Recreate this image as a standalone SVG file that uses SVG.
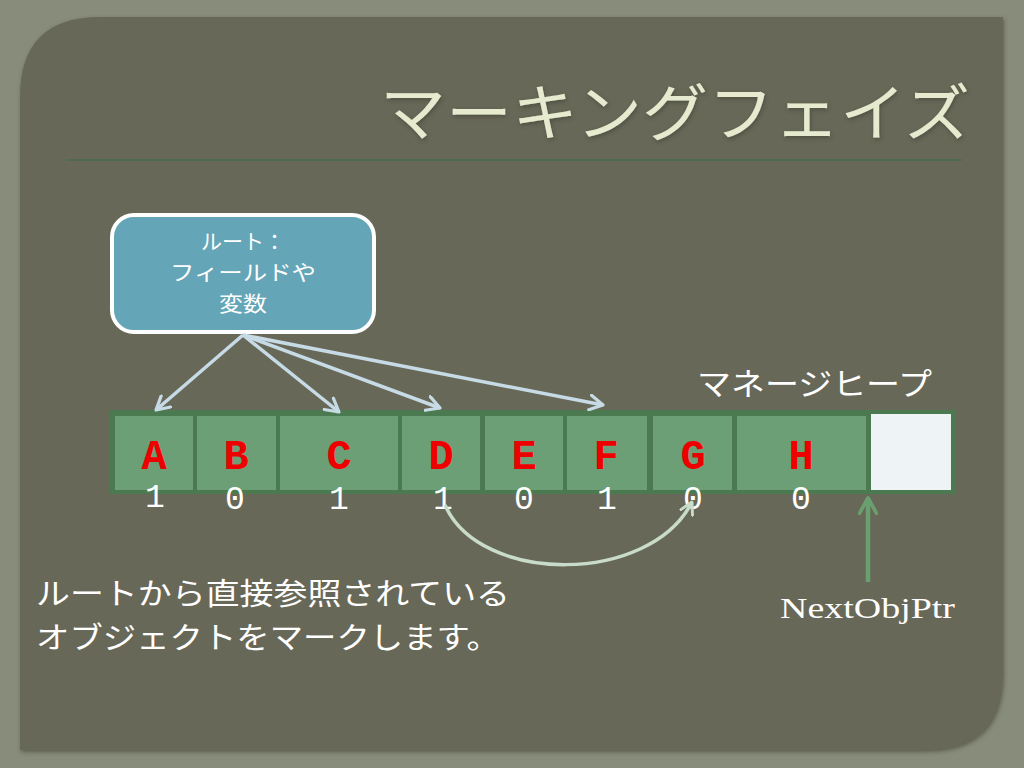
<svg xmlns="http://www.w3.org/2000/svg" width="1024" height="768" viewBox="0 0 1024 768">
  <defs>
    <style>
      .jp { font-family: "Noto Sans CJK JP", "Noto Sans", sans-serif; }
      .cell { fill: #6d9f76; }
      .lbl { font-family: "Liberation Mono", "Courier New", monospace; font-weight: bold; font-size: 42px; fill: #ee0000; text-anchor: middle; }
      .bit { font-family: "Liberation Mono", "Courier New", monospace; font-size: 33px; fill: #ffffff; text-anchor: middle; }
      .ref { stroke: #c6dbe5; stroke-width: 3.5; fill: none; }
    </style>
    <marker id="vhead" viewBox="0 0 12 12" refX="10" refY="6" markerWidth="5" markerHeight="5" orient="auto" markerUnits="strokeWidth">
      <path d="M1,1 L10,6 L1,11" fill="none" stroke="#c6dbe5" stroke-width="2.2" stroke-linecap="round" stroke-linejoin="round"/>
    </marker>
    <marker id="vhead2" viewBox="0 0 12 12" refX="10" refY="6" markerWidth="4.5" markerHeight="4.5" orient="auto" markerUnits="strokeWidth">
      <path d="M1,1 L10,6 L1,11" fill="none" stroke="#c9dbc9" stroke-width="2.2" stroke-linecap="round" stroke-linejoin="round"/>
    </marker>
    <marker id="vhead3" viewBox="0 0 12 12" refX="10" refY="6" markerWidth="4.5" markerHeight="4.5" orient="auto" markerUnits="strokeWidth">
      <path d="M1,1 L10,6 L1,11" fill="none" stroke="#6aa070" stroke-width="2.2" stroke-linecap="round" stroke-linejoin="round"/>
    </marker>
    <filter id="shadow" x="-5%" y="-5%" width="110%" height="110%">
      <feDropShadow dx="1" dy="2" stdDeviation="2" flood-color="#3a3b30" flood-opacity="0.6"/>
    </filter>
  </defs>

  <!-- background -->
  <rect x="0" y="0" width="1024" height="768" fill="#888c7a"/>
  <path d="M100,17 L1003,17 L1003,672 Q1003,750 925,750 L20,750 L20,97 Q20,17 100,17 Z" fill="#676858" filter="url(#shadow)"/>

  <!-- title -->
  <text x="380" y="136" class="jp" font-size="62" fill="#e6ebcf" textLength="590" lengthAdjust="spacingAndGlyphs" filter="url(#shadow)">マーキングフェイズ</text>
  <line x1="66" y1="160" x2="962" y2="160" stroke="#4e6b50" stroke-width="2"/>

  <!-- root node -->
  <g id="root">
    <rect x="112" y="215" width="262" height="117" rx="22" ry="22" fill="#64a5b7" stroke="#ffffff" stroke-width="4"/>
    <text class="jp" x="243" y="249" font-size="21" fill="#ffffff" text-anchor="middle">ルート：</text>
    <text class="jp" x="243" y="280" font-size="21" fill="#ffffff" text-anchor="middle" textLength="146" lengthAdjust="spacingAndGlyphs">フィールドや</text>
    <text class="jp" x="243" y="311" font-size="21" fill="#ffffff" text-anchor="middle" textLength="48" lengthAdjust="spacingAndGlyphs">変数</text>
  </g>

  <!-- heap -->
  <g id="heap">
    <rect x="110" y="410" width="846" height="84" fill="#4b7a50"/>
    <g id="cell-A"><rect class="cell" x="115" y="416" width="78" height="74"/><text class="lbl" x="154" y="469">A</text><text class="bit" x="155" y="507">1</text></g>
    <g id="cell-B"><rect class="cell" x="197" y="416" width="79" height="74"/><text class="lbl" x="236" y="469">B</text><text class="bit" x="235" y="509">0</text></g>
    <g id="cell-C"><rect class="cell" x="280" y="416" width="118" height="74"/><text class="lbl" x="339" y="469">C</text><text class="bit" x="339" y="509">1</text></g>
    <g id="cell-D"><rect class="cell" x="402" y="416" width="78" height="74"/><text class="lbl" x="441" y="469">D</text><text class="bit" x="443" y="509">1</text></g>
    <g id="cell-E"><rect class="cell" x="485" y="416" width="78" height="74"/><text class="lbl" x="524" y="469">E</text><text class="bit" x="524" y="509">0</text></g>
    <g id="cell-F"><rect class="cell" x="567" y="416" width="80" height="74"/><text class="lbl" x="606" y="469">F</text><text class="bit" x="607" y="509">1</text></g>
    <g id="cell-G"><rect class="cell" x="653" y="416" width="79" height="74"/><text class="lbl" x="693" y="469">G</text><text class="bit" x="693" y="509">0</text></g>
    <g id="cell-H"><rect class="cell" x="737" y="416" width="129" height="74"/><text class="lbl" x="801" y="469">H</text><text class="bit" x="801" y="509">0</text></g>
    <g id="cell-free"><rect x="871" y="414" width="80" height="76" fill="#eef3f5"/></g>
  </g>

  <g id="heap-label">
    <text x="697" y="395" class="jp" font-size="31" fill="#ffffff" textLength="235" lengthAdjust="spacingAndGlyphs">マネージヒープ</text>
  </g>

  <g id="nextobjptr">
    <text x="780" y="618" font-family="Liberation Serif, serif" font-size="30" fill="#ffffff" textLength="175" lengthAdjust="spacingAndGlyphs">NextObjPtr</text>
  </g>

  <!-- connectors -->
  <g id="connectors">
    <line class="ref" x1="243" y1="335" x2="156" y2="410" marker-end="url(#vhead)"/>
    <line class="ref" x1="243" y1="335" x2="339" y2="412" marker-end="url(#vhead)"/>
    <line class="ref" x1="243" y1="335" x2="440" y2="408" marker-end="url(#vhead)"/>
    <line class="ref" x1="243" y1="335" x2="603" y2="405" marker-end="url(#vhead)"/>
    <path d="M445,505 C480,585 650,585 692,502" fill="none" stroke="#c9dbc9" stroke-width="3.5" marker-end="url(#vhead2)"/>
    <line x1="868" y1="582" x2="868" y2="498" stroke="#6aa070" stroke-width="4.5" marker-end="url(#vhead3)"/>
  </g>

  <!-- caption -->
  <text class="jp" x="36" y="604" font-size="30" fill="#ffffff" textLength="474" lengthAdjust="spacingAndGlyphs">ルートから直接参照されている</text>
  <text class="jp" x="36" y="648" font-size="30" fill="#ffffff" textLength="464" lengthAdjust="spacingAndGlyphs">オブジェクトをマークします。</text>
</svg>
